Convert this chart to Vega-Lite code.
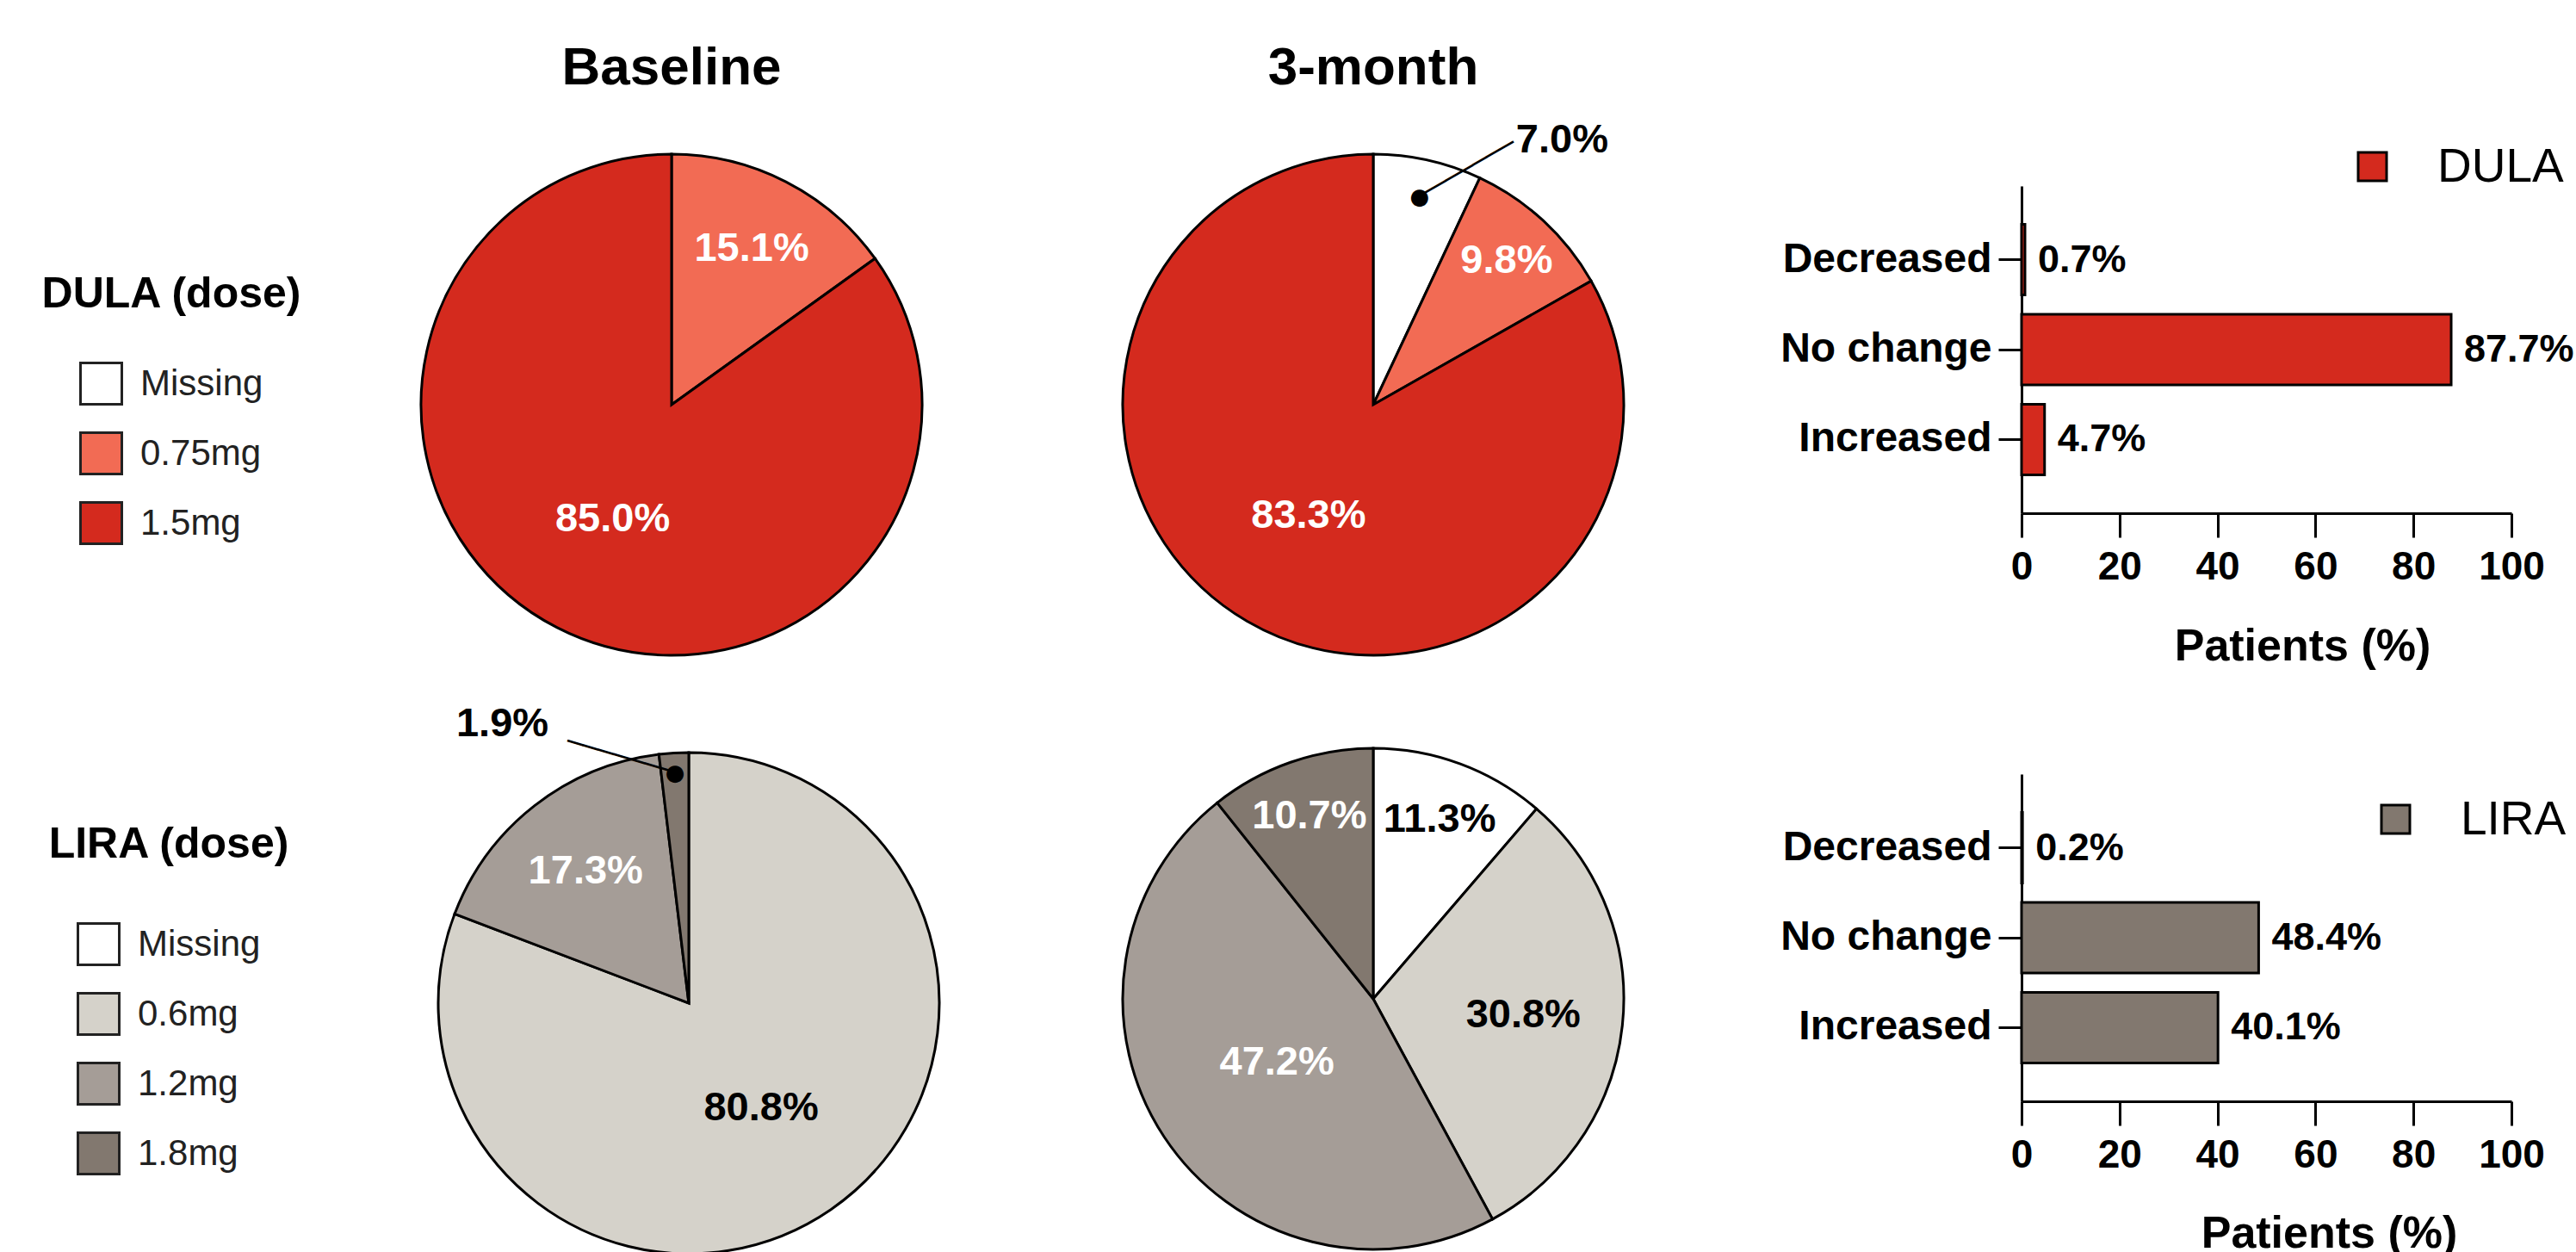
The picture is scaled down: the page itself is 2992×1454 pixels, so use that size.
{
  "$schema": "https://vega.github.io/schema/vega-lite/v6.json",
  "background": "white",
  "padding": {"left": 48, "top": 47, "right": 0, "bottom": 0},
  "config": {"view": {"stroke": null}, "font": "Liberation Sans"},
  "datasets": {
    "pies": [
      {"drug": "DULA", "time": "Baseline", "dose": "0.75mg", "pct": 0.151, "rank": 2},
      {"drug": "DULA", "time": "Baseline", "dose": "1.5mg", "pct": 0.850, "rank": 3},
      {"drug": "DULA", "time": "3-month", "dose": "Missing", "pct": 0.070, "rank": 1},
      {"drug": "DULA", "time": "3-month", "dose": "0.75mg", "pct": 0.098, "rank": 2},
      {"drug": "DULA", "time": "3-month", "dose": "1.5mg", "pct": 0.833, "rank": 3},
      {"drug": "LIRA", "time": "Baseline", "dose": "0.6mg", "pct": 0.808, "rank": 2},
      {"drug": "LIRA", "time": "Baseline", "dose": "1.2mg", "pct": 0.173, "rank": 3},
      {"drug": "LIRA", "time": "Baseline", "dose": "1.8mg", "pct": 0.019, "rank": 4},
      {"drug": "LIRA", "time": "3-month", "dose": "Missing", "pct": 0.113, "rank": 1},
      {"drug": "LIRA", "time": "3-month", "dose": "0.6mg", "pct": 0.308, "rank": 2},
      {"drug": "LIRA", "time": "3-month", "dose": "1.2mg", "pct": 0.472, "rank": 3},
      {"drug": "LIRA", "time": "3-month", "dose": "1.8mg", "pct": 0.107, "rank": 4}
    ],
    "bars": [
      {"drug": "DULA", "change": "Decreased", "pct": 0.007},
      {"drug": "DULA", "change": "No change", "pct": 0.877},
      {"drug": "DULA", "change": "Increased", "pct": 0.047},
      {"drug": "LIRA", "change": "Decreased", "pct": 0.002},
      {"drug": "LIRA", "change": "No change", "pct": 0.484},
      {"drug": "LIRA", "change": "Increased", "pct": 0.401}
    ]
  },
  "columns": 3,
  "bounds": "flush",
  "align": "each",
  "spacing": {"row": 175, "column": 100},
  "resolve": {"scale": {"color": "independent", "theta": "independent", "radius": "independent"}},
  "concat": [
    {
      "width": 44, "height": 508,
      "title": {"text": "Baseline", "font": "Liberation Sans", "fontSize": 62, "fontWeight": "bold", "color": "black", "anchor": "middle", "baseline": "alphabetic", "offset": 13},
      "data": {"name": "pies"},
      "transform": [{"filter": "datum.drug === 'DULA' && datum.time === 'Baseline'"}],
      "encoding": {
        "theta": {"field": "pct", "type": "quantitative", "stack": true},
        "order": {"field": "rank", "type": "quantitative"}
      },
      "layer": [
        {
          "mark": {"type": "arc", "outerRadius": 291, "stroke": "black", "strokeWidth": 3},
          "encoding": {
            "color": {"field": "dose", "type": "nominal",
              "scale": {"domain": ["Missing", "0.75mg", "1.5mg"], "range": ["#ffffff", "#F26B54", "#D42A1E"]},
              "legend": {"orient": "none", "legendX": -710, "legendY": 101, "title": "DULA (dose)", "titleFont": "Liberation Sans", "titleFontSize": 50, "titleFontWeight": "bold", "titleColor": "black", "titleAnchor": "middle", "titleLimit": 1000, "titlePadding": 53, "labelFont": "Liberation Sans", "labelFontSize": 42, "labelColor": "#222222", "labelLimit": 1000, "labelOffset": 20, "symbolType": "square", "symbolSize": 2304, "symbolStrokeColor": "#222222", "symbolStrokeWidth": 3, "rowPadding": 20, "padding": 0}
            }
          }
        },
        {
          "mark": {"type": "text", "font": "Liberation Sans", "fontWeight": "bold", "fontSize": 47, "align": "center", "baseline": "middle"},
          "encoding": {
            "text": {"field": "pct", "type": "quantitative", "format": ".1%"},
            "radius": {"field": "pct", "type": "quantitative", "scale": {"type": "linear", "domain": [0.10, 0.17, 0.31, 0.47, 0.85], "range": [228, 195, 175, 134, 150], "clamp": true}},
            "color": {"condition": {"test": "datum.dose === 'Missing' || datum.dose === '0.6mg'", "value": "black"}, "value": "white"},
            "opacity": {"condition": {"test": "datum.pct < 0.08", "value": 0}, "value": 1}
          }
        }
      ]
    },
    {
      "width": 1306, "height": 508,
      "title": {"text": "3-month", "font": "Liberation Sans", "fontSize": 62, "fontWeight": "bold", "color": "black", "anchor": "middle", "baseline": "alphabetic", "offset": 13, "dy": 34},
      "data": {"name": "pies"},
      "transform": [{"filter": "datum.drug === 'DULA' && datum.time === '3-month'"}],
      "encoding": {
        "theta": {"field": "pct", "type": "quantitative", "stack": true},
        "order": {"field": "rank", "type": "quantitative"}
      },
      "layer": [
        {
          "mark": {"type": "arc", "outerRadius": 291, "stroke": "black", "strokeWidth": 3},
          "encoding": {
            "color": {"field": "dose", "type": "nominal",
              "scale": {"domain": ["Missing", "0.75mg", "1.5mg"], "range": ["#ffffff", "#F26B54", "#D42A1E"]},
              "legend": null}
          }
        },
        {
          "mark": {"type": "text", "font": "Liberation Sans", "fontWeight": "bold", "fontSize": 47, "align": "center", "baseline": "middle"},
          "encoding": {
            "text": {"field": "pct", "type": "quantitative", "format": ".1%"},
            "radius": {"field": "pct", "type": "quantitative", "scale": {"type": "linear", "domain": [0.10, 0.17, 0.31, 0.47, 0.85], "range": [228, 195, 175, 134, 150], "clamp": true}},
            "color": {"condition": {"test": "datum.dose === 'Missing' || datum.dose === '0.6mg'", "value": "black"}, "value": "white"},
            "opacity": {"condition": {"test": "datum.pct < 0.08", "value": 0}, "value": 1}
          }
        },
        {
          "mark": {"type": "text", "text": "●", "font": "DejaVu Sans", "fontSize": 26, "radius": 247, "align": "center", "baseline": "middle", "color": "black"},
          "encoding": {"opacity": {"condition": {"test": "datum.pct < 0.08", "value": 1}, "value": 0}}
        },
        {
          "mark": {"type": "text", "text": "───────", "font": "DejaVu Sans", "fontSize": 30, "radius": 247, "align": "left", "baseline": "middle", "angle": 330, "color": "black"},
          "encoding": {"opacity": {"condition": {"test": "datum.pct < 0.08", "value": 1}, "value": 0}}
        },
        {
          "mark": {"type": "text", "font": "Liberation Sans", "fontWeight": "bold", "fontSize": 47, "radius": 247, "align": "left", "baseline": "middle", "dx": 112, "dy": -66, "color": "black"},
          "encoding": {
            "text": {"field": "pct", "type": "quantitative", "format": ".1%"},
            "opacity": {"condition": {"test": "datum.pct < 0.08", "value": 1}, "value": 0}
          }
        }
      ]
    },
    {
      "width": 569, "height": 380,
      "data": {"name": "bars"},
      "transform": [{"filter": "datum.drug === 'DULA'"}],
      "encoding": {
        "y": {"field": "change", "type": "nominal", "sort": ["Decreased", "No change", "Increased"],
          "scale": {"paddingInner": 0.215, "paddingOuter": 0.426},
          "axis": {"title": null, "domainColor": "black", "domainWidth": 3, "tickColor": "black", "tickWidth": 3, "tickSize": 27, "labelFont": "Liberation Sans", "labelFontSize": 48, "labelFontWeight": "bold", "labelColor": "black", "labelPadding": 8, "labelLimit": 1000}},
        "x": {"field": "pct", "type": "quantitative", "scale": {"domain": [0, 1]},
          "axis": {"values": [0, 0.2, 0.4, 0.6, 0.8, 1], "labelExpr": "round(datum.value * 100)", "title": "Patients (%)", "grid": false, "domainColor": "black", "domainWidth": 3, "tickColor": "black", "tickWidth": 3, "tickSize": 28, "labelFont": "Liberation Sans", "labelFontSize": 46, "labelFontWeight": "bold", "labelColor": "black", "labelPadding": 12, "labelFlush": false, "labelOverlap": false, "titleFont": "Liberation Sans", "titleFontSize": 52, "titleFontWeight": "bold", "titleColor": "black", "titlePadding": 44, "titleX": 326}}
      },
      "layer": [
        {
          "mark": {"type": "bar", "stroke": "black", "strokeWidth": 3},
          "encoding": {
            "color": {"field": "drug", "type": "nominal", "scale": {"domain": ["DULA"], "range": ["#D42A1E"]},
              "legend": {"orient": "none", "legendX": 380, "legendY": -50, "title": null, "labelFont": "Liberation Sans", "labelFontSize": 55, "labelColor": "black", "labelLimit": 1000, "labelOffset": 48, "symbolType": "square", "symbolSize": 1089, "symbolStrokeColor": "black", "symbolStrokeWidth": 3, "padding": 0}}
          }
        },
        {
          "mark": {"type": "text", "font": "Liberation Sans", "fontWeight": "bold", "fontSize": 45, "align": "left", "baseline": "middle", "dx": 15, "color": "black"},
          "encoding": {"text": {"field": "pct", "type": "quantitative", "format": ".1%"}}
        }
      ]
    },
    {
      "width": 84, "height": 532,
      "data": {"name": "pies"},
      "transform": [{"filter": "datum.drug === 'LIRA' && datum.time === 'Baseline'"}],
      "encoding": {
        "theta": {"field": "pct", "type": "quantitative", "stack": true},
        "order": {"field": "rank", "type": "quantitative"}
      },
      "layer": [
        {
          "mark": {"type": "arc", "outerRadius": 291, "stroke": "black", "strokeWidth": 3},
          "encoding": {
            "color": {"field": "dose", "type": "nominal",
              "scale": {"domain": ["Missing", "0.6mg", "1.2mg", "1.8mg"], "range": ["#ffffff", "#D5D2CA", "#A59D97", "#82786F"]},
              "legend": {"orient": "none", "legendX": -702, "legendY": 57, "title": "LIRA (dose)", "titleFont": "Liberation Sans", "titleFontSize": 50, "titleFontWeight": "bold", "titleColor": "black", "titleAnchor": "middle", "titleLimit": 1000, "titlePadding": 65, "labelFont": "Liberation Sans", "labelFontSize": 42, "labelColor": "#222222", "labelLimit": 1000, "labelOffset": 20, "symbolType": "square", "symbolSize": 2304, "symbolStrokeColor": "#222222", "symbolStrokeWidth": 3, "rowPadding": 20, "padding": 0}
            }
          }
        },
        {
          "mark": {"type": "text", "font": "Liberation Sans", "fontWeight": "bold", "fontSize": 47, "align": "center", "baseline": "middle"},
          "encoding": {
            "text": {"field": "pct", "type": "quantitative", "format": ".1%"},
            "radius": {"field": "pct", "type": "quantitative", "scale": {"type": "linear", "domain": [0.10, 0.17, 0.31, 0.47, 0.85], "range": [228, 195, 175, 134, 150], "clamp": true}},
            "color": {"condition": {"test": "datum.dose === 'Missing' || datum.dose === '0.6mg'", "value": "black"}, "value": "white"},
            "opacity": {"condition": {"test": "datum.pct < 0.08", "value": 0}, "value": 1}
          }
        },
        {
          "mark": {"type": "text", "text": "●", "font": "DejaVu Sans", "fontSize": 26, "radius": 267, "align": "center", "baseline": "middle", "color": "black"},
          "encoding": {"opacity": {"condition": {"test": "datum.pct < 0.08", "value": 1}, "value": 0}}
        },
        {
          "mark": {"type": "text", "text": "───────", "font": "DejaVu Sans", "fontSize": 31, "radius": 267, "align": "right", "baseline": "middle", "angle": 16.4, "color": "black"},
          "encoding": {"opacity": {"condition": {"test": "datum.pct < 0.08", "value": 1}, "value": 0}}
        },
        {
          "mark": {"type": "text", "font": "Liberation Sans", "fontWeight": "bold", "fontSize": 47, "radius": 267, "align": "right", "baseline": "middle", "dx": -147, "dy": -57, "color": "black"},
          "encoding": {
            "text": {"field": "pct", "type": "quantitative", "format": ".1%"},
            "opacity": {"condition": {"test": "datum.pct < 0.08", "value": 1}, "value": 0}
          }
        }
      ]
    },
    {
      "width": 1306, "height": 522,
      "data": {"name": "pies"},
      "transform": [{"filter": "datum.drug === 'LIRA' && datum.time === '3-month'"}],
      "encoding": {
        "theta": {"field": "pct", "type": "quantitative", "stack": true},
        "order": {"field": "rank", "type": "quantitative"}
      },
      "layer": [
        {
          "mark": {"type": "arc", "outerRadius": 291, "stroke": "black", "strokeWidth": 3},
          "encoding": {
            "color": {"field": "dose", "type": "nominal",
              "scale": {"domain": ["Missing", "0.6mg", "1.2mg", "1.8mg"], "range": ["#ffffff", "#D5D2CA", "#A59D97", "#82786F"]},
              "legend": null}
          }
        },
        {
          "mark": {"type": "text", "font": "Liberation Sans", "fontWeight": "bold", "fontSize": 47, "align": "center", "baseline": "middle"},
          "encoding": {
            "text": {"field": "pct", "type": "quantitative", "format": ".1%"},
            "radius": {"field": "pct", "type": "quantitative", "scale": {"type": "linear", "domain": [0.10, 0.17, 0.31, 0.47, 0.85], "range": [228, 195, 175, 134, 150], "clamp": true}},
            "color": {"condition": {"test": "datum.dose === 'Missing' || datum.dose === '0.6mg'", "value": "black"}, "value": "white"},
            "opacity": {"condition": {"test": "datum.pct < 0.08", "value": 0}, "value": 1}
          }
        }
      ]
    },
    {
      "width": 569, "height": 380,
      "data": {"name": "bars"},
      "transform": [{"filter": "datum.drug === 'LIRA'"}],
      "encoding": {
        "y": {"field": "change", "type": "nominal", "sort": ["Decreased", "No change", "Increased"],
          "scale": {"paddingInner": 0.215, "paddingOuter": 0.426},
          "axis": {"title": null, "domainColor": "black", "domainWidth": 3, "tickColor": "black", "tickWidth": 3, "tickSize": 27, "labelFont": "Liberation Sans", "labelFontSize": 48, "labelFontWeight": "bold", "labelColor": "black", "labelPadding": 8, "labelLimit": 1000}},
        "x": {"field": "pct", "type": "quantitative", "scale": {"domain": [0, 1]},
          "axis": {"values": [0, 0.2, 0.4, 0.6, 0.8, 1], "labelExpr": "round(datum.value * 100)", "title": "Patients (%)", "grid": false, "domainColor": "black", "domainWidth": 3, "tickColor": "black", "tickWidth": 3, "tickSize": 28, "labelFont": "Liberation Sans", "labelFontSize": 46, "labelFontWeight": "bold", "labelColor": "black", "labelPadding": 12, "labelFlush": false, "labelOverlap": false, "titleFont": "Liberation Sans", "titleFontSize": 52, "titleFontWeight": "bold", "titleColor": "black", "titlePadding": 43, "titleX": 357}}
      },
      "layer": [
        {
          "mark": {"type": "bar", "stroke": "black", "strokeWidth": 3},
          "encoding": {
            "color": {"field": "drug", "type": "nominal", "scale": {"domain": ["LIRA"], "range": ["#82786F"]},
              "legend": {"orient": "none", "legendX": 407, "legendY": 25, "title": null, "labelFont": "Liberation Sans", "labelFontSize": 55, "labelColor": "black", "labelLimit": 1000, "labelOffset": 48, "symbolType": "square", "symbolSize": 1089, "symbolStrokeColor": "black", "symbolStrokeWidth": 3, "padding": 0}}
          }
        },
        {
          "mark": {"type": "text", "font": "Liberation Sans", "fontWeight": "bold", "fontSize": 45, "align": "left", "baseline": "middle", "dx": 15, "color": "black"},
          "encoding": {"text": {"field": "pct", "type": "quantitative", "format": ".1%"}}
        }
      ]
    }
  ]
}
